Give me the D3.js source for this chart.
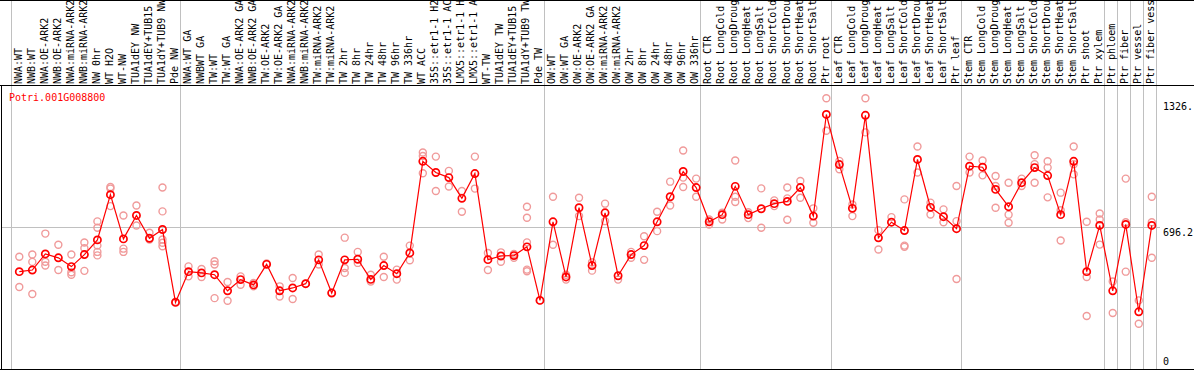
<!DOCTYPE html>
<html>
<head>
<meta charset="utf-8">
<script src="https://cdn.jsdelivr.net/npm/d3@7"></script>
<style>
  body { margin: 0; background: #fff; }
  svg { display: block; }
  text { font-family: "DejaVu Sans Mono", monospace; font-size: 10px; }
  .grid { stroke: #c0c0c0; stroke-width: 1; }
  .frame { stroke: #000; stroke-width: 1; }
</style>
</head>
<body>
<svg class="chart" width="1194" height="370"></svg>
<script>
const geneName = 'Potri.001G008800'

// sample names as far as the header shows them
const samples = [
  'NWA:WT', 'NWB:WT', 'NWA:OE-ARK2', 'NWB:OE-ARK2', 'NWA:miRNA-ARK2', 'NWB:miRNA-ARK2',
  'NW 0hr', 'WT H2O', 'WT-NW', 'TUA1dEY NW', 'TUA1dEY+TUB15', 'TUA1dY+TUB9 NW', 'Pde NW',
  'NWA:WT GA', 'NWBWT GA', 'TW:WT', 'TW:WT GA', 'NWA:OE-ARK2 GA', 'NWB:OE-ARK2 GA',
  'TW:OE-ARK2', 'TW:OE-ARK2 GA', 'NWA:miRNA-ARK2', 'NWB:miRNA-ARK2', 'TW:miRNA-ARK2',
  'TW:miRNA-ARK2', 'TW 2hr', 'TW 8hr', 'TW 24hr', 'TW 48hr', 'TW 96hr', 'TW 336hr', 'WT ACC',
  '35S::etr1-1 H2', '35S::etr1-1 AC', 'LMX5::etr1-1 H', 'LMX5::etr1-1 A', 'WT-TW',
  'TUA1dEY TW', 'TUA1dEY+TUB15', 'TUA1dY+TUB9 TW', 'Pde TW',
  'OW:WT', 'OW:WT GA', 'OW:OE-ARK2', 'OW:OE-ARK2 GA', 'OW:miRNA-ARK2', 'OW:miRNA-ARK2',
  'OW 2hr', 'OW 8hr', 'OW 24hr', 'OW 48hr', 'OW 96hr', 'OW 336hr',
  'Root CTR', 'Root LongCold', 'Root LongDroug', 'Root LongHeat', 'Root LongSalt',
  'Root ShortCold', 'Root ShortDrou', 'Root ShortHeat', 'Root ShortSalt', 'Ptr root',
  'Leaf CTR', 'Leaf LongCold', 'Leaf LongDroug', 'Leaf LongHeat', 'Leaf LongSalt',
  'Leaf ShortCold', 'Leaf ShortDrou', 'Leaf ShortHeat', 'Leaf ShortSalt', 'Ptr leaf',
  'Stem CTR', 'Stem LongCold', 'Stem LongDroug', 'Stem LongHeat', 'Stem LongSalt',
  'Stem ShortCold', 'Stem ShortDrou', 'Stem ShortHeat', 'Stem ShortSalt', 'Ptr shoot',
  'Ptr xylem', 'Ptr phloem', 'Ptr fiber', 'Ptr vessel', 'Ptr fiber vess'
]

// index of the first sample of each block (last entry closes the final block)
const groupStarts = [0, 13, 41, 53, 63, 73, 84, 85, 86, 87, 88]

const meanValues = [
  478, 486, 565, 546, 503, 562, 634, 856, 639, 754, 642, 685, 327,
  478, 472, 463, 384, 439, 413, 514, 384, 398, 419, 536, 373, 536, 539, 440,
  508, 468, 570, 1020, 965, 940, 838, 960, 537, 555, 557, 600, 337,
  723, 452, 792, 508, 767, 458, 562, 606, 723, 846, 970, 891,
  723, 758, 897, 758, 787, 812, 823, 891, 751, 1250,
  1004, 789, 1246, 644, 721, 680, 1029, 794, 748, 689,
  996, 991, 882, 797, 915, 989, 950, 758, 1020, 478, 705,
  384, 710, 281, 705
]

const replicateValues = [
  [551, 403], [562, 526, 368], [665, 527, 508], [610, 486], [562, 475, 463],
  [621, 593, 482], [725, 694, 606, 575, 558], [894, 886, 800], [754, 591, 575],
  [803, 705], [669, 636], [891, 774, 636, 620, 603], [330],
  [504, 455], [491, 452], [529, 513, 348], [427, 335], [455, 414], [422, 406],
  [518], [406, 356], [447, 344], [419], [562, 513], [375], [645, 496, 472],
  [575, 521], [463, 430], [551, 452], [488, 439], [606, 534],
  [1063, 1046, 961], [1043, 874], [973, 896], [874, 772], [1043, 886],
  [570, 486], [573, 527], [565, 546], [797, 743, 622, 488, 480], [337],
  [846, 610], [463, 439], [841, 751], [524, 483], [812, 726], [439],
  [575, 546], [652, 536], [772, 677], [920, 803], [1073, 940, 894], [935, 846],
  [734, 710], [767, 734], [1024, 846, 820], [770, 741], [887, 694], [828, 800],
  [891, 838, 733], [923, 841], [789, 718], [1330, 1170],
  [1022, 981], [808, 751], [1330, 1162], [682, 587], [746], [833, 606, 600],
  [1093, 965], [817, 759], [784, 721], [899, 726, 442],
  [1043, 965], [1024, 951], [948, 899, 792], [915, 758, 718], [935, 899],
  [1050, 1006, 915], [1020, 989, 843], [866, 780, 631], [1093, 1006, 956],
  [723, 452, 260], [764, 734, 611],
  [430, 275], [935, 721, 478], [337, 222], [846, 721, 546]
]

const yTicks = [1326, 696.2, 0]
const yTickLabels = ['1326.', '696.2', '0']

const svg = d3.select('svg.chart')
const plotTop = 86
const plotBottom = 369

const x = d3.scaleBand()
  .domain(d3.range(samples.length))
  .range([10.5, 1156])
  .padding(0)

const y = d3.scaleLinear()
  .domain([0, 1326])
  .range([plotBottom, 99])

const cx = i => x(i) + 8.8

// block separators, full height
svg.append('g')
  .selectAll('line')
  .data(groupStarts)
  .enter()
  .append('line')
  .attr('class', 'grid')
  .attr('x1', d => Math.round(d < samples.length ? x(d) : x.range()[1]) + 0.5)
  .attr('x2', d => Math.round(d < samples.length ? x(d) : x.range()[1]) + 0.5)
  .attr('y1', 0)
  .attr('y2', plotBottom)

// reference line at the middle tick
svg.append('line')
  .attr('class', 'grid')
  .attr('x1', 1)
  .attr('x2', 1160)
  .attr('y1', Math.round(y(yTicks[1])) + 0.5)
  .attr('y2', Math.round(y(yTicks[1])) + 0.5)

// frame
svg.append('line').attr('class', 'frame').attr('x1', 0).attr('x2', 1194).attr('y1', 0.5).attr('y2', 0.5)
svg.append('line').attr('class', 'frame').attr('x1', 0).attr('x2', 1194).attr('y1', plotTop - 0.5).attr('y2', plotTop - 0.5)
svg.append('line').attr('class', 'frame').attr('x1', 0).attr('x2', 1194).attr('y1', plotBottom + 0.5).attr('y2', plotBottom + 0.5)
svg.append('line').attr('class', 'frame').attr('x1', 1.5).attr('x2', 1.5).attr('y1', plotTop).attr('y2', plotBottom)

// sample names, rotated
svg.append('g')
  .selectAll('text')
  .data(samples)
  .enter()
  .append('text')
  .attr('transform', (d, i) => `translate(${x(i) + 11}, 84) rotate(-90)`)
  .attr('fill', '#000')
  .text(d => d)

// gene title
svg.append('text')
  .attr('x', 9)
  .attr('y', 101)
  .attr('fill', '#ff0000')
  .text(geneName)

// right axis labels
const labelShift = [11, 8.5, -4]
svg.append('g')
  .selectAll('text')
  .data(yTicks)
  .enter()
  .append('text')
  .attr('x', 1163)
  .attr('y', (d, i) => y(d) + labelShift[i])
  .attr('fill', '#000')
  .text((d, i) => yTickLabels[i])

// replicate points
const reps = replicateValues.flatMap((vals, i) => vals.map(v => ({ i, v })))
svg.append('g')
  .selectAll('circle')
  .data(reps)
  .enter()
  .append('circle')
  .attr('cx', d => cx(d.i))
  .attr('cy', d => y(d.v))
  .attr('r', 3.5)
  .attr('fill', 'none')
  .attr('stroke', '#f09a9a')
  .attr('stroke-width', 1.4)

// mean line
const line = d3.line()
  .x((d, i) => cx(i))
  .y(d => y(d))

svg.append('path')
  .datum(meanValues)
  .attr('d', line)
  .attr('fill', 'none')
  .attr('stroke', '#ff0000')
  .attr('stroke-width', 1.2)

// mean points
svg.append('g')
  .selectAll('circle')
  .data(meanValues)
  .enter()
  .append('circle')
  .attr('cx', (d, i) => cx(i))
  .attr('cy', d => y(d))
  .attr('r', 3.6)
  .attr('fill', 'none')
  .attr('stroke', '#ff0000')
  .attr('stroke-width', 1.7)
</script>
</body>
</html>
